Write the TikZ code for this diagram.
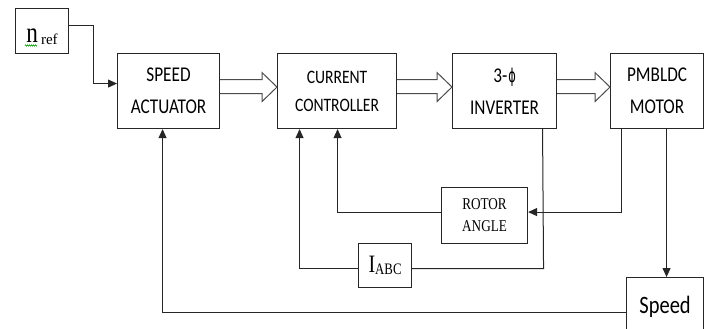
\documentclass[tikz,border=0pt]{standalone}
\usepackage{fontspec}
\newfontfamily\calfont[FakeStretch=0.82]{Carlito}
\newfontfamily\tmsfont[FakeStretch=0.8]{Liberation Serif}
\newfontfamily\tmsplain{Liberation Serif}
\newfontfamily\phifont[FakeStretch=0.6]{DejaVu Sans}
\usetikzlibrary{arrows.meta,calc,decorations.pathmorphing}
\tikzset{
  blk/.style={draw=black!85,line width=1.1pt,inner sep=0pt,anchor=north west,align=center},
  ln/.style={draw=black!85,line width=1pt},
  arr/.style={ln,-{Triangle[length=9pt,width=8pt]}},
  hol/.style={draw=black!70,line width=1pt,fill=white,line join=miter},
  big/.style={font=\calfont\fontsize{21}{32}\selectfont},
}
\newcommand\holarrow[2]{\draw[hol] ($(#1.east)+(0,-11.5)$) -- ($(#2.west)+(-15,-11.5)$) -- ($(#2.west)+(-15,-18.5)$) -- ($(#2.west)+(0,-4)$) -- ($(#2.west)+(-15,10.5)$) -- ($(#2.west)+(-15,2.5)$) -- ($(#1.east)+(0,2.5)$);}
\begin{document}
\begin{tikzpicture}[x=1pt,y=-1pt]
\fill[white] (0,0) rectangle (704,329);
\useasboundingbox (0,0) rectangle (704,329);
% blocks
\node[blk,minimum width=53pt,minimum height=45pt,text height=23pt,text depth=0pt] (nref) at (15,8)
  {\tmsfont\fontsize{29}{29}\selectfont n\hspace{3pt}\raisebox{-2pt}{\tmsplain\fontsize{15}{15}\selectfont ref}};
\node[blk,big,minimum width=102pt,minimum height=75pt] (sa) at (117,53) {SPEED\\ACTUATOR};
\node[blk,font=\calfont\fontsize{19}{28}\selectfont,minimum width=119pt,minimum height=75pt] (cc) at (277,53) {CURRENT\\CONTROLLER};
\node[blk,big,minimum width=104pt,minimum height=75pt] (inv) at (452,53) {3-\hspace{1pt}{\phifont\fontsize{19}{19}\selectfont ϕ}\\INVERTER};
\node[blk,big,minimum width=93pt,minimum height=75pt] (mot) at (610,53) {PMBLDC\\MOTOR};
\node[blk,font=\tmsfont\fontsize{16.5}{22}\selectfont,minimum width=86pt,minimum height=56pt] (rot) at (441,187) {ROTOR\\ANGLE};
\node[blk,minimum width=53pt,minimum height=44pt] (iabc) at (358,243)
  {\tmsfont\fontsize{25}{25}\selectfont I\raisebox{-1.5pt}{\fontsize{16}{16}\selectfont ABC}};
\node[blk,font=\calfont\fontsize{25}{25}\selectfont,minimum width=77pt,minimum height=58pt] (spd) at (626,277) {Speed};
% spell-check underline
\draw[green!60!black,line width=0.6pt,decoration={zigzag,amplitude=0.6pt,segment length=2pt},decorate] (25,45.5) -- (37,45.5);
% forward path
\draw[arr] ([yshift=5.5pt]nref.east) -- ++(24,0) |- ([yshift=7.5pt]sa.west);
\holarrow{sa}{cc}
\holarrow{cc}{inv}
\holarrow{inv}{mot}
% feedback
\coordinate (ie) at ([yshift=-3pt]iabc.east);
\coordinate (is) at ([xshift=38pt]inv.south);
\draw[ln] (is) -- ([xshift=1pt]is |- ie) -- (ie);
\draw[arr] ([yshift=-3pt]iabc.west) -| ([xshift=-37.5pt]cc.south);
\draw[arr] ([xshift=-35.5pt]mot.south) |- ([yshift=3.5pt]rot.east);
\draw[arr] ([yshift=3.5pt]rot.west) -| ([xshift=0.5pt]cc.south);
\coordinate (ms) at ([xshift=9.5pt]mot.south);
\draw[arr] (ms) -- (ms |- spd.north);
\draw[arr] ([yshift=-6pt]spd.west) -| ([xshift=-6pt]sa.south);
\end{tikzpicture}
\end{document}
